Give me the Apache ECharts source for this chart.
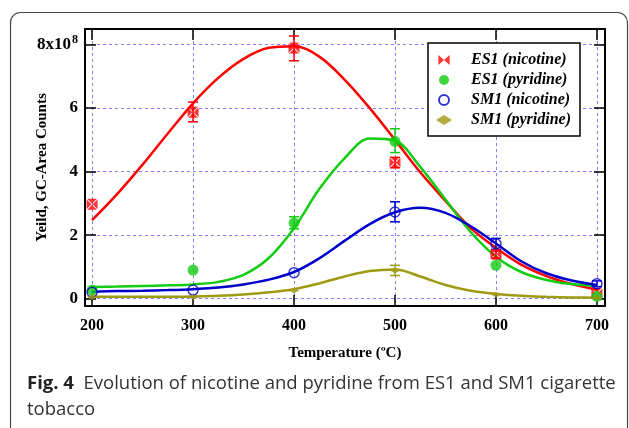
<!DOCTYPE html>
<html>
<head>
<meta charset="utf-8">
<script src="https://cdn.jsdelivr.net/npm/echarts@6/dist/echarts.min.js"></script>
<style>
  html, body { margin: 0; padding: 0; background: #fff; }
  #chart { width: 629px; height: 428px; }
</style>
</head>
<body>
<div id="chart"></div>
<script>
// measured points (x10^8 counts)
var temps = [200, 300, 400, 500, 600, 700];
var es1Nic = [2.97, 5.87, 7.89, 4.29, 1.40, 0.17];
var es1Pyr = [0.27, 0.90, 2.38, 4.95, 1.05, 0.07];
var sm1Nic = [0.20, 0.27, 0.82, 2.73, 1.73, 0.47];
var sm1Pyr = [0.05, 0.05, 0.26, 0.89, 0.13, 0.02];

// error bars [temp, low, high]
var es1NicErr = [[300, 5.57, 6.19], [400, 7.49, 8.27], [500, 4.12, 4.45], [600, 1.28, 1.50]];
var es1PyrErr = [[400, 2.20, 2.58], [500, 4.60, 5.35]];
var sm1NicErr = [[500, 2.42, 3.05], [600, 1.55, 1.90], [700, 0.38, 0.56]];
var sm1PyrErr = [[500, 0.73, 1.05]];

// fitted curves
var fitT = [200, 225, 250, 275, 300, 325, 350, 375, 400, 425, 450, 475, 500, 525, 550, 575, 600, 625, 650, 675, 700];
var fitEs1Nic = [2.47, 3.30, 4.22, 5.20, 6.15, 6.95, 7.55, 7.90, 7.95, 7.62, 6.90, 6.00, 5.00, 3.98, 3.08, 2.22, 1.60, 1.07, 0.71, 0.46, 0.28];
var fitEs1Pyr = [0.37, 0.38, 0.40, 0.42, 0.45, 0.53, 0.75, 1.28, 2.22, 3.45, 4.42, 5.04, 4.97, 4.15, 3.12, 2.10, 1.32, 0.84, 0.59, 0.46, 0.40];
var fitSm1Nic = [0.22, 0.24, 0.25, 0.27, 0.30, 0.35, 0.45, 0.60, 0.84, 1.27, 1.82, 2.35, 2.72, 2.86, 2.70, 2.28, 1.74, 1.18, 0.80, 0.57, 0.43];
var fitSm1Pyr = [0.06, 0.06, 0.06, 0.06, 0.07, 0.09, 0.13, 0.20, 0.30, 0.48, 0.70, 0.87, 0.92, 0.70, 0.43, 0.25, 0.15, 0.09, 0.06, 0.04, 0.03];

var xTicks = [200, 300, 400, 500, 600, 700];
var yTicks = [0, 2, 4, 6, 8];

var RED = '#ff0000', GREEN = '#11cc11', BLUE = '#0000cc', OLIVE = '#a09a12';
var serif = 'Liberation Serif';

function zip(xs, ys) {
  return xs.map(function (x, i) { return [x, ys[i]]; });
}

function errBars(color) {
  return function (params, api) {
    var x = api.value(0);
    var lo = api.coord([x, api.value(1)]);
    var hi = api.coord([x, api.value(2)]);
    var w = 5;
    var st = { stroke: color, lineWidth: 1.5 };
    return {
      type: 'group',
      children: [
        { type: 'line', shape: { x1: lo[0], y1: lo[1], x2: hi[0], y2: hi[1] }, style: st },
        { type: 'line', shape: { x1: lo[0] - w, y1: lo[1], x2: lo[0] + w, y2: lo[1] }, style: st },
        { type: 'line', shape: { x1: hi[0] - w, y1: hi[1], x2: hi[0] + w, y2: hi[1] }, style: st }
      ]
    };
  };
}

function fitLine(data, color) {
  return {
    type: 'line', data: zip(fitT, data), smooth: 0.35, showSymbol: false, silent: true,
    lineStyle: { color: color, width: 2.5 }, z: 2
  };
}

function errSeries(data, color) {
  return { type: 'custom', data: data, renderItem: errBars(color), z: 3, silent: true };
}

var bowtieMark = 'path://M0,1L8,9L0,17ZM18,1L10,9L18,17ZM1,0L17,0L9,8ZM1,18L17,18L9,10Z';
var bowtieIcon = 'path://M0,0L9,8L0,16ZM18,0L9,8L18,16Z';
var diamond = 'path://M0,5L8,0L16,5L8,10Z';
var dot = 'path://M0,0m-5,0a5,5 0 1,0 10,0a5,5 0 1,0 -10,0';

var chart = echarts.init(document.getElementById('chart'));

var axisCommon = {
  type: 'value',
  axisLine: { show: true, onZero: false, lineStyle: { color: '#000', width: 2 } },
  axisTick: { show: true, inside: true, length: 11, lineStyle: { color: '#000', width: 1.5 } },
  splitLine: { show: false }
};

chart.setOption({
  animation: false,
  backgroundColor: '#fff',
  grid: { left: 85, right: 24, top: 29, bottom: 122 },
  xAxis: [
    Object.assign({}, axisCommon, {
      min: 193, max: 708, position: 'bottom',
      axisTick: Object.assign({}, axisCommon.axisTick, { customValues: xTicks }),
      axisLabel: {
        customValues: xTicks, margin: 12, color: '#000',
        fontFamily: serif, fontWeight: 'bold', fontSize: 16
      },
      splitLine: { show: true, lineStyle: { color: '#8080ff', type: [3, 3], width: 1 } },
      name: 'Temperature (ºC)', nameLocation: 'middle', nameGap: 40, nameMoveOverlap: false,
      nameTextStyle: { fontFamily: serif, fontWeight: 'bold', fontSize: 15, color: '#000' }
    }),
    Object.assign({}, axisCommon, {
      min: 193, max: 708, position: 'top',
      axisTick: Object.assign({}, axisCommon.axisTick, { customValues: xTicks }),
      axisLabel: { show: false }
    })
  ],
  yAxis: [
    Object.assign({}, axisCommon, {
      min: -0.23, max: 8.49, position: 'left',
      axisTick: Object.assign({}, axisCommon.axisTick, { customValues: yTicks }),
      axisLabel: {
        customValues: yTicks, margin: 7, color: '#000',
        fontFamily: serif, fontWeight: 'bold', fontSize: 17,
        formatter: function (v) {
          return v === 8 ? '{n|8x10}{s|8}' : String(v);
        },
        rich: {
          n: { fontFamily: serif, fontWeight: 'bold', fontSize: 17, color: '#000' },
          s: { fontFamily: serif, fontWeight: 'bold', fontSize: 12, color: '#000', padding: [0, 0, 9, 1] }
        }
      },
      splitLine: { show: true, lineStyle: { color: '#8080ff', type: [3, 3], width: 1 } },
      name: 'Yeild, GC-Area Counts', nameLocation: 'middle', nameGap: 35, nameMoveOverlap: false,
      nameTextStyle: { fontFamily: serif, fontWeight: 'bold', fontSize: 15, color: '#000' }
    }),
    Object.assign({}, axisCommon, {
      min: -0.23, max: 8.49, position: 'right',
      axisTick: Object.assign({}, axisCommon.axisTick, { customValues: yTicks }),
      axisLabel: { show: false }
    })
  ],
  legend: {
    left: 428, top: 43, orient: 'vertical',
    padding: [9, 9, 8, 8], itemGap: 4, itemWidth: 26, itemHeight: 10,
    borderColor: '#000', borderWidth: 1.5, backgroundColor: '#fff',
    textStyle: {
      fontFamily: serif, fontWeight: 'bold', fontStyle: 'italic', fontSize: 16,
      lineHeight: 16, color: '#000', padding: [0, 0, 0, 9]
    },
    data: [
      { name: 'ES1 (nicotine)', icon: bowtieIcon },
      { name: 'ES1 (pyridine)', icon: dot },
      { name: 'SM1 (nicotine)', icon: dot },
      { name: 'SM1 (pyridine)', icon: diamond }
    ]
  },
  graphic: [
    {
      type: 'rect', silent: true, z: -10,
      shape: { x: 10.5, y: 12.5, width: 617, height: 430, r: 10 },
      style: { fill: 'none', stroke: '#444', lineWidth: 1.2 }
    },
    {
      type: 'text', left: 27, top: 371,
      style: {
        text: '{b|Fig. 4}  Evolution of nicotine and pyridine from ES1 and SM1 cigarette\ntobacco',
        fontFamily: 'Open Sans', fontSize: 18.5, lineHeight: 26, fill: '#333',
        rich: {
          b: { fontFamily: 'Open Sans', fontWeight: 'bold', fontSize: 18.5, lineHeight: 26, fill: '#222' }
        }
      }
    }
  ],
  series: [
    fitLine(fitEs1Nic, RED),
    fitLine(fitEs1Pyr, GREEN),
    fitLine(fitSm1Nic, BLUE),
    fitLine(fitSm1Pyr, OLIVE),
    errSeries(es1NicErr, RED),
    errSeries(es1PyrErr, GREEN),
    errSeries(sm1NicErr, BLUE),
    errSeries(sm1PyrErr, OLIVE),
    {
      name: 'ES1 (nicotine)', type: 'scatter', data: zip(temps, es1Nic),
      symbol: bowtieMark, symbolSize: 11, itemStyle: { color: RED }, z: 4
    },
    {
      name: 'ES1 (pyridine)', type: 'scatter', data: zip(temps, es1Pyr),
      symbol: 'circle', symbolSize: 11, itemStyle: { color: GREEN }, z: 4
    },
    {
      name: 'SM1 (nicotine)', type: 'scatter', data: zip(temps, sm1Nic),
      symbol: 'circle', symbolSize: 10,
      itemStyle: { color: 'rgba(255,255,255,0)', borderColor: BLUE, borderWidth: 1.5 }, z: 4
    },
    {
      name: 'SM1 (pyridine)', type: 'scatter', data: zip(temps, sm1Pyr),
      symbol: diamond, symbolSize: [10, 6], itemStyle: { color: OLIVE }, z: 4
    }
  ]
});
</script>
</body>
</html>
